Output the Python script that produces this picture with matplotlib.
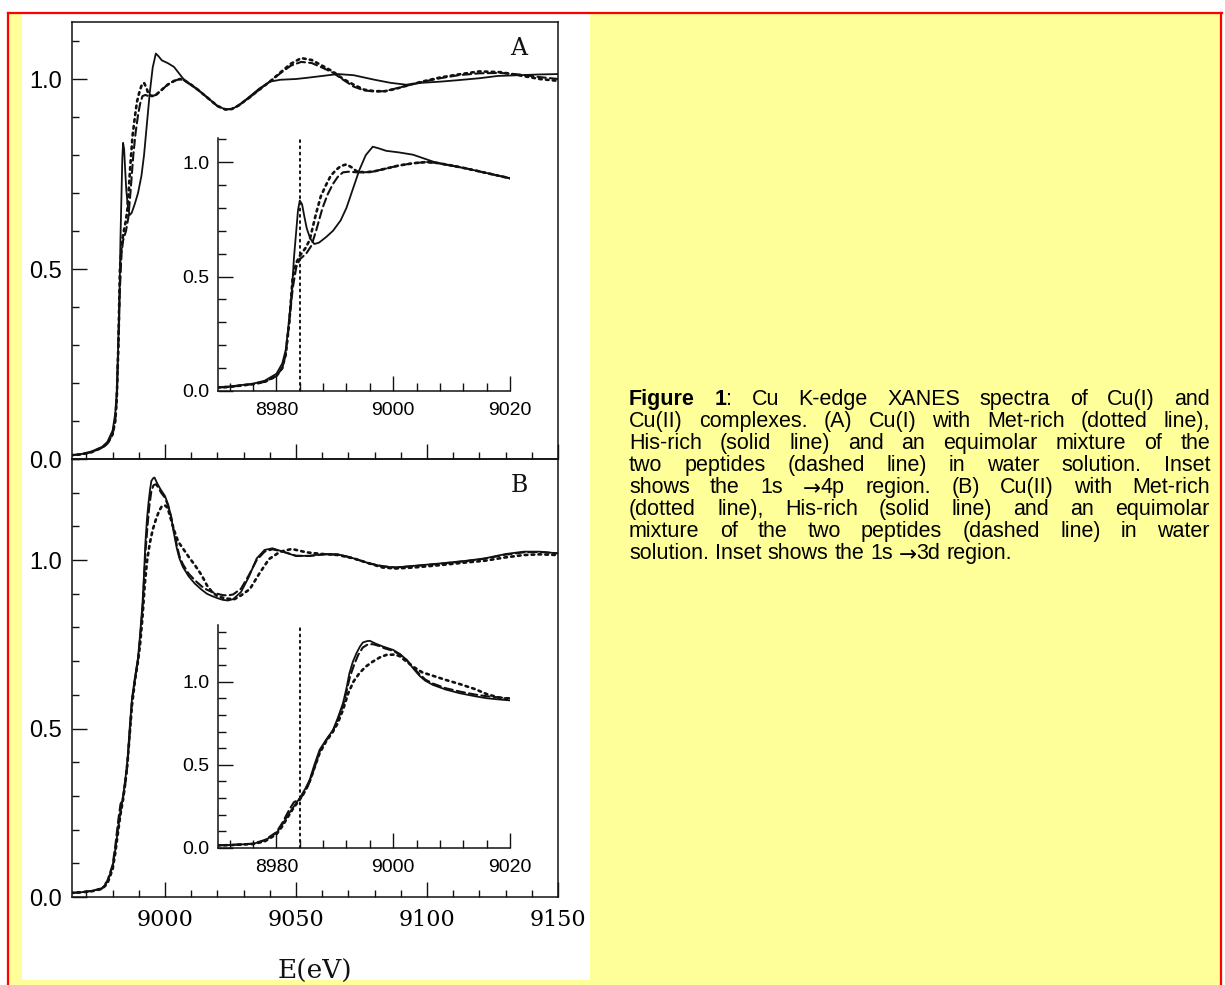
import matplotlib.pyplot as plt
from matplotlib import patches
from matplotlib.ticker import MultipleLocator
import numpy as np

# ---- panel A : Cu(I) complexes ----
e_a_his = [8964, 8968, 8972, 8976, 8978, 8980, 8981, 8981.6, 8982.0, 8982.4, 8982.7, 8983.0, 8983.4, 8983.7,
           8984.0, 8984.4, 8984.8, 8985.2, 8985.8, 8986.5, 8987.3, 8988.5, 8989.7, 8991.0, 8992.0, 8993.0,
           8994.2, 8995.3, 8996.5, 8997.5, 8998.8, 9001, 9003.4, 9005, 9006.8, 9009, 9012.5, 9016, 9020,
           9023, 9025.5, 9028, 9032, 9036, 9040, 9044, 9050, 9054, 9060, 9066, 9072, 9080, 9086, 9092,
           9098, 9105, 9112, 9120, 9127, 9135, 9143, 9150]
mu_a_his = [0.010, 0.013, 0.020, 0.032, 0.045, 0.075, 0.12, 0.18, 0.27, 0.37, 0.455, 0.58, 0.70, 0.79,
            0.832, 0.815, 0.76, 0.71, 0.665, 0.642, 0.648, 0.672, 0.70, 0.745, 0.80, 0.875,
            0.965, 1.03, 1.067, 1.060, 1.049, 1.042, 1.032, 1.018, 1.002, 0.988, 0.972, 0.952, 0.929,
            0.920, 0.921, 0.930, 0.952, 0.975, 0.993, 0.998, 1.000, 1.003, 1.008, 1.013, 1.010, 0.998, 0.990, 0.985,
            0.990, 0.993, 0.997, 1.002, 1.008, 1.010, 1.012, 1.013]

e_a_mix = [8964, 8968, 8972, 8976, 8978, 8980, 8981, 8981.6, 8982.2, 8982.8, 8983.4, 8984, 8985.1, 8986.0,
           8986.8, 8987.9, 8988.8, 8989.7, 8990.5, 8991.4, 8992.5, 8993.7, 8995, 8996.5, 8998.5, 9001,
           9003.5, 9005.7, 9007.5, 9010, 9012.5, 9016, 9020, 9023, 9025.5, 9028, 9032, 9036, 9040, 9044,
           9048, 9052, 9056, 9060, 9064, 9068, 9072, 9076, 9080, 9084, 9088, 9092, 9098, 9105, 9112, 9120,
           9128, 9135, 9143, 9150]
mu_a_mix = [0.010, 0.012, 0.018, 0.030, 0.040, 0.065, 0.10, 0.16, 0.30, 0.45, 0.54, 0.575, 0.60, 0.635,
            0.70, 0.80, 0.86, 0.905, 0.935, 0.955, 0.958, 0.955, 0.955, 0.958, 0.970, 0.985,
            0.995, 1.000, 0.996, 0.985, 0.972, 0.952, 0.929, 0.920, 0.921, 0.930, 0.950, 0.972, 0.993, 1.015,
            1.035, 1.045, 1.042, 1.030, 1.017, 0.998, 0.980, 0.970, 0.967, 0.968, 0.975, 0.982, 0.992, 1.002, 1.010, 1.015,
            1.016, 1.012, 1.005, 1.000]

e_a_met = [8964, 8968, 8972, 8976, 8978, 8980, 8981, 8981.6, 8982.2, 8982.8, 8983.4, 8984, 8985, 8985.7,
           8986.8, 8987.6, 8988.5, 8989.3, 8990.2, 8991.0, 8992.0, 8993.0, 8993.7, 8995, 8996.5, 8998.5,
           9001, 9003.5, 9005.7, 9007.5, 9010, 9012.5, 9016, 9020, 9023, 9025.5, 9028, 9032, 9036, 9040,
           9044, 9048, 9052, 9056, 9060, 9064, 9068, 9072, 9076, 9080, 9084, 9088, 9092, 9098, 9105, 9112,
           9120, 9128, 9135, 9143, 9150]
mu_a_met = [0.010, 0.012, 0.018, 0.030, 0.040, 0.065, 0.10, 0.16, 0.30, 0.50, 0.56, 0.59, 0.625, 0.66,
            0.776, 0.85, 0.90, 0.94, 0.965, 0.982, 0.990, 0.975, 0.960, 0.955, 0.958, 0.970,
            0.985, 0.995, 1.000, 0.996, 0.985, 0.972, 0.952, 0.929, 0.920, 0.921, 0.930, 0.950, 0.972, 0.993,
            1.017, 1.040, 1.055, 1.050, 1.035, 1.020, 1.000, 0.985, 0.972, 0.968, 0.968, 0.974, 0.982, 0.993, 1.004, 1.012,
            1.020, 1.018, 1.010, 1.000, 0.995]

# ---- panel B : Cu(II) complexes ----
e_b_his = [8964, 8968, 8972, 8976, 8978, 8980, 8981, 8982.2, 8983, 8984, 8985, 8985.7, 8986.5, 8987.4,
           8988.5, 8989.7, 8990.5, 8991.4, 8992, 8992.5, 8993.1, 8993.7, 8994.3, 8994.8, 8995.5, 8996,
           8997, 8998.3, 9000, 9001.2, 9002.3, 9003.4, 9004.5, 9005.5, 9006.8, 9009, 9011.4, 9014, 9016,
           9018, 9020, 9022, 9024, 9026, 9029, 9032, 9035, 9038, 9041, 9045, 9050, 9055, 9061, 9066,
           9070, 9074, 9078, 9083, 9088, 9095, 9105, 9115, 9122, 9130, 9137, 9143, 9150]
mu_b_his = [0.012, 0.014, 0.018, 0.025, 0.045, 0.090, 0.14, 0.21, 0.25, 0.30, 0.36, 0.41, 0.50, 0.59,
            0.65, 0.71, 0.78, 0.87, 0.96, 1.05, 1.12, 1.17, 1.21, 1.235, 1.243, 1.245,
            1.228, 1.21, 1.19, 1.165, 1.13, 1.08, 1.035, 1.005, 0.980, 0.952, 0.930, 0.912, 0.900,
            0.893, 0.887, 0.882, 0.880, 0.884, 0.905, 0.950, 1.005, 1.030, 1.035, 1.025, 1.012, 1.013, 1.018, 1.017,
            1.010, 1.000, 0.990, 0.981, 0.978, 0.983, 0.990, 0.998, 1.005, 1.018, 1.025, 1.025, 1.020]

e_b_mix = [8964, 8968, 8972, 8976, 8978, 8980, 8981, 8982.2, 8983, 8983.8, 8984.6, 8985.5, 8986.5, 8987.4,
           8988.5, 8989.7, 8990.5, 8991.4, 8992, 8992.6, 8993.3, 8994, 8994.8, 8995.6, 8996.5, 8997.5,
           8998.5, 9000, 9001.2, 9002.3, 9003.4, 9004.5, 9005.5, 9006.8, 9009, 9011.4, 9014, 9016, 9018,
           9020, 9022, 9024, 9026, 9029, 9032, 9035, 9038, 9041, 9045, 9050, 9055, 9061, 9066, 9070,
           9074, 9078, 9083, 9088, 9095, 9105, 9115, 9122, 9130, 9137, 9143, 9150]
mu_b_mix = [0.012, 0.014, 0.018, 0.026, 0.048, 0.095, 0.15, 0.23, 0.275, 0.29, 0.32, 0.38, 0.48, 0.58,
            0.645, 0.705, 0.77, 0.855, 0.94, 1.03, 1.10, 1.16, 1.205, 1.222, 1.225, 1.215,
            1.20, 1.185, 1.16, 1.13, 1.085, 1.045, 1.012, 0.988, 0.960, 0.940, 0.922, 0.912, 0.905,
            0.900, 0.896, 0.895, 0.898, 0.915, 0.955, 1.000, 1.025, 1.032, 1.025, 1.013, 1.012, 1.017, 1.016,
            1.009, 1.000, 0.990, 0.982, 0.978, 0.982, 0.989, 0.997, 1.004, 1.016, 1.023, 1.024, 1.020]

e_b_met = [8964, 8968, 8972, 8976, 8978, 8980, 8981, 8982.2, 8983, 8984, 8985, 8985.7, 8986.5, 8987.4,
           8988.5, 8989.7, 8990.5, 8991.4, 8992.3, 8993.2, 8994.2, 8995.3, 8996.5, 8997.7, 8998.8, 9000,
           9001, 9002.3, 9003.4, 9005, 9006.8, 9009, 9011.4, 9014, 9016, 9018, 9020, 9023, 9026.5, 9029,
           9032.4, 9036, 9039.7, 9044, 9048.4, 9054, 9060, 9066, 9072, 9078, 9083, 9088, 9095, 9105, 9115,
           9122, 9130, 9137, 9143, 9150]
mu_b_met = [0.012, 0.014, 0.017, 0.024, 0.040, 0.082, 0.13, 0.20, 0.245, 0.29, 0.35, 0.40, 0.48, 0.57,
            0.64, 0.70, 0.75, 0.83, 0.93, 1.00, 1.05, 1.09, 1.12, 1.145, 1.16, 1.162,
            1.155, 1.12, 1.09, 1.055, 1.035, 1.010, 0.985, 0.955, 0.925, 0.905, 0.893, 0.886, 0.884, 0.895,
            0.914, 0.960, 1.003, 1.025, 1.033, 1.023, 1.018, 1.015, 1.005, 0.990, 0.978, 0.975, 0.978, 0.985, 0.993,
            0.998, 1.008, 1.015, 1.017, 1.015]

edge_line = 8984

caption_lines = [
    "Figure 1: Cu K-edge XANES spectra of Cu(I) and",
    "Cu(II) complexes. (A) Cu(I) with Met-rich (dotted line),",
    "His-rich (solid line) and an equimolar mixture of the",
    "two peptides (dashed line) in water solution. Inset",
    "shows the 1s \u21924p region. (B) Cu(II) with Met-rich",
    "(dotted line), His-rich (solid line) and an equimolar",
    "mixture of the two peptides (dashed line) in water",
    "solution. Inset shows the 1s \u21923d region.",
]

W, H = 1225, 985
fig = plt.figure(figsize=(W / 100, H / 100), dpi=100, facecolor='white')


def fx(px):
    return px / W


def fy(py):
    return 1 - py / H


def box(x0, y0, x1, y1, **kw):
    fig.patches.append(patches.Rectangle((fx(x0), fy(y1)), fx(x1) - fx(x0), fy(y0) - fy(y1),
                                         transform=fig.transFigure, zorder=-10, **kw))


# page background: yellow slide, white figure panel, red frame
box(8, 13, 1222, 985, facecolor='#ffff99', edgecolor='none')
box(22, 14, 590, 980, facecolor='white', edgecolor='none')
for xs, ys in [((8, 1222), (13, 13)), ((8, 8), (13, 985)), ((1221, 1221), (13, 985))]:
    fig.add_artist(plt.Line2D([fx(x) for x in xs], [fy(y) for y in ys], color='red', lw=1.6,
                              transform=fig.transFigure))

ink = '#111111'
sans = ['Liberation Sans', 'DejaVu Sans']
serif = ['DejaVu Serif']

series_a = [(e_a_his, mu_a_his, '-'), (e_a_mix, mu_a_mix, (0, (4, 2))), (e_a_met, mu_a_met, (0, (1, 1.6)))]
series_b = [(e_b_his, mu_b_his, '-'), (e_b_mix, mu_b_mix, (0, (4, 2))), (e_b_met, mu_b_met, (0, (1, 1.6)))]


def draw_lines(ax, series, emax=None):
    for e, mu, ls in series:
        e = np.array(e)
        mu = np.array(mu)
        if emax is not None:
            keep = e <= emax
            e, mu = e[keep], mu[keep]
        lw = 1.3 if ls == '-' else (1.5 if ls[1][0] > 2 else 1.9)
        ax.plot(e, mu, color=ink, lw=lw, ls=ls, dash_capstyle='round')


def main_axes(rect, series, ymax, letter, show_x):
    ax = fig.add_axes(rect)
    ax.set_facecolor('none')
    draw_lines(ax, series)
    ax.set_xlim(8964.5, 9150)
    ax.set_ylim(0, ymax)
    ax.xaxis.set_major_locator(MultipleLocator(50))
    ax.xaxis.set_minor_locator(MultipleLocator(10))
    ax.yaxis.set_major_locator(MultipleLocator(0.5))
    ax.yaxis.set_minor_locator(MultipleLocator(0.1))
    ax.yaxis.set_major_formatter('{x:.1f}')
    ax.tick_params(which='both', direction='in', top=False, right=False, color=ink, width=1.0)
    ax.tick_params(which='major', length=11)
    ax.tick_params(which='minor', length=5)
    ax.tick_params(axis='y', which='major', pad=7, labelsize=17)
    ax.tick_params(axis='x', which='major', pad=9, labelsize=16)
    for lab in ax.get_yticklabels():
        lab.set_family(sans)
    for lab in ax.get_xticklabels():
        lab.set_family(serif)
    if not show_x:
        ax.tick_params(axis='x', labelbottom=False)
    for sp in ax.spines.values():
        sp.set_color(ink)
        sp.set_linewidth(1.1)
    ax.text(0.92, 0.94, letter, transform=ax.transAxes, ha='center', va='center',
            fontsize=17, family=serif, color=ink)
    return ax


def inset_axes(rect, series, ymax):
    ax = fig.add_axes(rect)
    ax.set_facecolor('none')
    draw_lines(ax, series, emax=9020)
    ax.axvline(edge_line, color=ink, lw=1.4, ls=(0, (1, 2.2)), dash_capstyle='round')
    ax.set_xlim(8970, 9020)
    ax.set_ylim(0, ymax)
    ax.xaxis.set_major_locator(MultipleLocator(20))
    ax.xaxis.set_minor_locator(MultipleLocator(4))
    ax.yaxis.set_major_locator(MultipleLocator(0.5))
    ax.yaxis.set_minor_locator(MultipleLocator(0.1))
    ax.yaxis.set_major_formatter('{x:.1f}')
    ax.spines['top'].set_visible(False)
    ax.spines['right'].set_visible(False)
    for sp in ('left', 'bottom'):
        ax.spines[sp].set_color(ink)
        ax.spines[sp].set_linewidth(1.1)
    ax.tick_params(which='both', direction='in', color=ink, width=1.0, labelsize=14)
    ax.tick_params(which='major', length=11)
    ax.tick_params(which='minor', length=5.5)
    ax.tick_params(axis='y', which='major', pad=6)
    ax.tick_params(axis='x', which='major', pad=8)
    for lab in ax.get_xticklabels() + ax.get_yticklabels():
        lab.set_family(sans)
    return ax


main_axes([fx(72), fy(459), fx(558) - fx(72), fy(22) - fy(459)], series_a, 1.15, 'A', False)
ax_b = main_axes([fx(72), fy(897), fx(558) - fx(72), fy(459) - fy(897)], series_b, 1.30, 'B', True)
ax_b.set_xlabel('E(eV)', fontsize=19, family=serif, color=ink, labelpad=20)

inset_axes([fx(218), fy(391), fx(510) - fx(218), fy(138) - fy(391)], series_a, 1.105)
inset_axes([fx(218), fy(848), fx(510) - fx(218), fy(625) - fy(848)], series_b, 1.34)

# ---- caption, fully justified like the slide text ----
cap_fs = 15.5
cap_x0, cap_x1 = 629, 1210
cap_base, cap_dy = 405, 22
renderer = fig.canvas.get_renderer()
run_style = {
    'n': dict(family=sans, weight='normal', fontsize=cap_fs),
    'b': dict(family=sans, weight='bold', fontsize=cap_fs),
    'arrow': dict(family=['DejaVu Sans'], weight='normal', fontsize=cap_fs),
}


def run_width(s, st):
    t = fig.text(0, 0, s, **run_style[st])
    w = t.get_window_extent(renderer).width
    t.remove()
    return w


space_w = run_width('a b', 'n') - run_width('ab', 'n')


def split_word(i, j, tok):
    if i == 0 and j == 0:
        return [(tok, 'b')]
    if i == 0 and j == 1:
        return [(tok[:-1], 'b'), (tok[-1], 'n')]
    if tok.startswith('\u2192'):
        return [('\u2192', 'arrow'), (tok[1:], 'n')]
    return [(tok, 'n')]


for i, line in enumerate(caption_lines):
    words = [split_word(i, j, tok) for j, tok in enumerate(line.split(' '))]
    widths = [sum(run_width(s, st) for s, st in w) for w in words]
    if i < len(caption_lines) - 1:
        gap = (cap_x1 - cap_x0 - sum(widths)) / (len(words) - 1)
    else:
        gap = space_w
    x = cap_x0
    y = cap_base + i * cap_dy
    for w, wd in zip(words, widths):
        xr = x
        for s, st in w:
            dy = 2 if st == 'arrow' else 0
            fig.text(fx(xr), fy(y + dy), s, va='baseline', ha='left', color='black', **run_style[st])
            xr += run_width(s, st)
        x += wd + gap

fig.savefig('out.png', dpi=100, facecolor='white')
